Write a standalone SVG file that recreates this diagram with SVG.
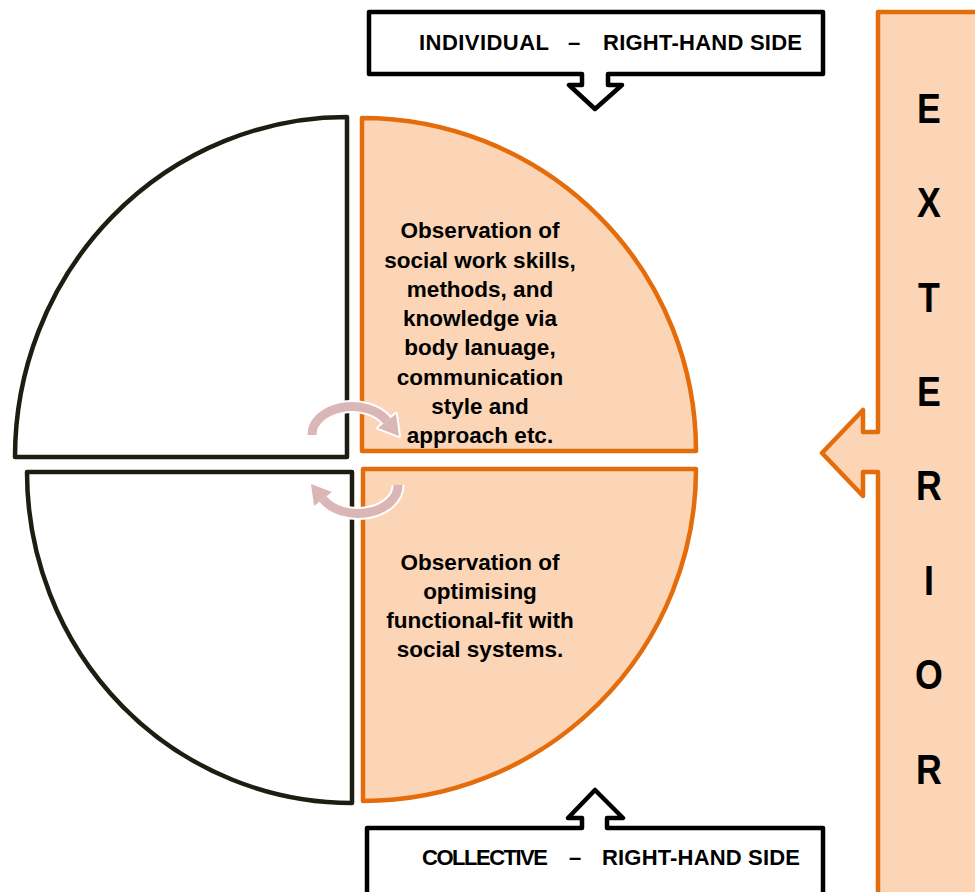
<svg xmlns="http://www.w3.org/2000/svg" width="975" height="892" viewBox="0 0 975 892">
<style>
.blk{fill:#ffffff;stroke:#1f1c12;stroke-width:4.5;stroke-linejoin:round}
.org{fill:#fbd5b5;stroke:#e46c0a;stroke-width:4.5;stroke-linejoin:round}
.call{fill:#ffffff;stroke:#000000;stroke-width:4.5;stroke-linejoin:round}
.t{font-family:"Liberation Sans",Arial,sans-serif;font-weight:bold;fill:#000000}
.q{font-size:22.5px;text-anchor:middle}
.h{font-size:22px}
.ext{font-size:42px;text-anchor:middle}
.arcW{fill:none;stroke:#ffffff;stroke-width:13}
.arcP{fill:none;stroke:#dbb6b6;stroke-width:9}
.headW{fill:#ffffff;stroke:#ffffff;stroke-width:4;stroke-linejoin:round}
.headP{fill:#dbb6b6}
</style>
<rect width="975" height="892" fill="#ffffff"/>

<g id="exterior">
<path class="org" d="M878 12 H990 V910 H878 V472 H863 V496 L822 453 L863 410 V432 H878 Z"/>
<g transform="translate(929 0) scale(0.85 1)">
<text class="t ext" x="0" y="123">E</text>
<text class="t ext" x="0" y="217">X</text>
<text class="t ext" x="0" y="312">T</text>
<text class="t ext" x="0" y="406">E</text>
<text class="t ext" x="0" y="500">R</text>
<text class="t ext" x="0" y="595">I</text>
<text class="t ext" x="0" y="689">O</text>
<text class="t ext" x="0" y="784">R</text>
</g>
</g>

<g id="individual">
<path class="call" d="M369 12 H823 V74 H608 V85 H622 L595 109 L569 85 H582 V74 H369 Z"/>
<text class="t h" x="419" y="50" textLength="130">INDIVIDUAL</text>
<text class="t h" x="568" y="50">–</text>
<text class="t h" x="603" y="50" textLength="199">RIGHT-HAND SIDE</text>
</g>

<g id="collective">
<path class="call" d="M367 828 H582 V818 H568 L595 790 L623 818 H607 V828 H823 V910 H367 Z"/>
<text class="t h" x="422" y="865" textLength="126">COLLECTIVE</text>
<text class="t h" x="569" y="865">–</text>
<text class="t h" x="602" y="865" textLength="198">RIGHT-HAND SIDE</text>
</g>

<g id="upper-left">
<path class="blk" d="M347 117 L347 457 L15 457 A332 340 0 0 1 347 117 Z"/>
</g>

<g id="lower-left">
<path class="blk" d="M27 472 L352 472 L352 803 A325 331 0 0 1 27 472 Z"/>
</g>

<g id="upper-right">
<path class="org" d="M362 118 A334 333 0 0 1 696 451 L362 451 Z"/>
</g>

<g id="lower-right">
<path class="org" d="M363 469 L696 469 A333 332 0 0 1 363 801 Z"/>
<text class="t q" x="480" y="570">Observation of</text>
<text class="t q" x="480" y="599">optimising</text>
<text class="t q" x="480" y="628">functional-fit with</text>
<text class="t q" x="480" y="657">social systems.</text>
</g>

<g id="connectors">
<g id="cycle-top">
<path class="arcW" d="M312 435 A40 28 0 0 1 387 421"/>
<polygon class="headW" points="396,414 378,428 399,436"/>
</g>
<g id="cycle-bottom" transform="rotate(180 355 460)">
<path class="arcW" d="M312 435 A40 28 0 0 1 387 421"/>
<polygon class="headW" points="396,414 378,428 399,436"/>
</g>
<g transform="">
<path class="arcP" d="M312 435 A40 28 0 0 1 387 421"/>
<polygon class="headP" points="396,414 378,428 399,436"/>
</g>
<g transform="rotate(180 355 460)">
<path class="arcP" d="M312 435 A40 28 0 0 1 387 421"/>
<polygon class="headP" points="396,414 378,428 399,436"/>
</g>
</g>

<g id="upper-right-label">
<text class="t q" x="480" y="238">Observation of</text>
<text class="t q" x="480" y="268">social work skills,</text>
<text class="t q" x="480" y="297">methods, and</text>
<text class="t q" x="480" y="326">knowledge via</text>
<text class="t q" x="480" y="355">body lanuage,</text>
<text class="t q" x="480" y="385">communication</text>
<text class="t q" x="480" y="414">style and</text>
<text class="t q" x="480" y="443">approach etc.</text>
</g>
</svg>
